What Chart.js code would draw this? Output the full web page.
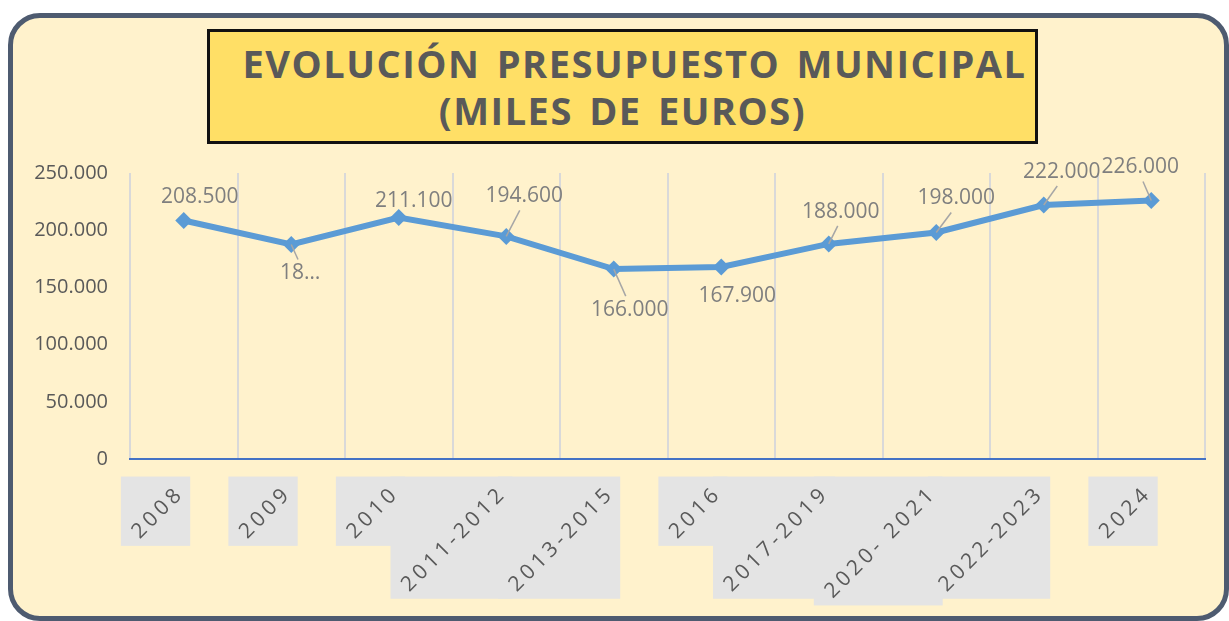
<!DOCTYPE html>
<html>
<head>
<meta charset="utf-8">
<script src="https://cdn.jsdelivr.net/npm/chart.js@4"></script>
<style>
html, body { margin: 0; padding: 0; background: #fff; width: 1229px; height: 621px; overflow: hidden; }
#card { position: absolute; left: 8px; top: 13px; width: 1221px; height: 608px; box-sizing: border-box;
        border: 5px solid #4e5b70; border-radius: 32px; background: #fff2cc; }
#title { position: absolute; left: 207px; top: 29px; width: 831px; height: 115px; box-sizing: border-box;
         border: 3px solid #111; background: #ffdf66; color: #595959; text-align: center;
         font: bold 38px "Open Sans", sans-serif; letter-spacing: 1.5px; word-spacing: 5px; line-height: 47px; padding-top: 8px; }
#title .l1 { display: inline-block; margin-left: 24px; }
#chart { position: absolute; left: 0; top: 0; }
</style>
</head>
<body>
<div id="card"></div>
<canvas id="chart" width="1229" height="621"></canvas>
<div id="title"><span class="l1">EVOLUCIÓN PRESUPUESTO MUNICIPAL</span><br>(MILES DE EUROS)</div>
<script>
// ==================== DATA ====================
const categories = ['2008', '2009', '2010', '2011-2012', '2013-2015', '2016', '2017-2019', '2020- 2021', '2022-2023', '2024'];
const budget = [208500, 187500, 211100, 194600, 166000, 167900, 188000, 198000, 222000, 226000];
const yTicks = [0, 50000, 100000, 150000, 200000, 250000];

// label placement (offset from point), leader lines, truncated labels
const labelOffsets = [[16, -23], [9, 29], [15, -16], [18, -40], [16, 41], [16, 29], [12, -32], [20, -34], [18, -33], [-11, -33]];
const labelLeaders = [false, true, false, true, true, false, true, true, true, true];
const labelClip = [0, 2, 0, 0, 0, 0, 0, 0, 0, 0];

const fmt = v => String(v).replace(/\B(?=(\d{3})+(?!\d))/g, '.');

// ==================== PLUGINS ====================
const pointLabels = {
    id: 'pointLabels',
    afterDatasetsDraw(chart) {
        const ctx = chart.ctx;
        const meta = chart.getDatasetMeta(0);
        ctx.save();
        ctx.font = '21px "Open Sans"';
        ctx.fillStyle = '#7f7f7f';
        ctx.strokeStyle = '#a6a6a6';
        ctx.lineWidth = 1.5;
        ctx.textAlign = 'center';
        ctx.textBaseline = 'middle';
        meta.data.forEach((pt, i) => {
            const [dx, dy] = labelOffsets[i];
            const lx = pt.x + dx, ly = pt.y + dy;
            if (labelLeaders[i]) {
                const s = dy < 0 ? -1 : 1;
                ctx.beginPath();
                ctx.moveTo(pt.x, pt.y);
                ctx.lineTo(lx - dx * 0.25, ly - s * 14);
                ctx.stroke();
            }
            let txt = fmt(budget[i]);
            if (labelClip[i]) txt = txt.slice(0, labelClip[i]) + '…';
            ctx.fillText(txt, lx, ly);
        });
        ctx.restore();
    }
};

const xLabels = {
    id: 'xLabels',
    afterDraw(chart) {
        const ctx = chart.ctx, xs = chart.scales.x;
        const h = 21, pad = 6, c = Math.SQRT1_2;
        const ay = chart.chartArea.bottom + 31;
        ctx.save();
        ctx.font = '21px "Open Sans"';
        ctx.letterSpacing = '4px';
        const items = categories.map((lab, i) => {
            const ax = xs.getPixelForValue(i) - 7;
            const L = ctx.measureText(lab).width - 4;
            return { lab, ax, L };
        });
        ctx.fillStyle = '#e4e4e4';
        items.forEach(({ ax, L }) => {
            const left = ax - c * L - c * h / 2 - pad;
            const right = ax + c * h / 2 + pad;
            const top = ay - c * h / 2 - pad;
            const bottom = ay + c * L + c * h / 2 + pad;
            ctx.fillRect(left, top, right - left, bottom - top);
        });
        ctx.fillStyle = '#595959';
        ctx.textAlign = 'right';
        ctx.textBaseline = 'middle';
        items.forEach(({ lab, ax }) => {
            ctx.save();
            ctx.translate(ax + 4, ay);
            ctx.rotate(-Math.PI / 4);
            ctx.fillText(lab, 0, 0);
            ctx.restore();
        });
        ctx.restore();
    }
};

// ==================== CHART ====================
const ctx = document.getElementById('chart').getContext('2d');
const budgetChart = new Chart(ctx, {
    type: 'line',
    data: {
        labels: categories,
        datasets: [{
            data: budget,
            borderColor: '#5b9bd5',
            borderWidth: 6,
            tension: 0,
            pointStyle: 'rectRot',
            pointRadius: 8.5,
            pointBackgroundColor: '#5b9bd5',
            pointBorderColor: '#5b9bd5',
            pointBorderWidth: 0
        }]
    },
    options: {
        responsive: false,
        animation: false,
        layout: { padding: { top: 173, bottom: 162, left: 0, right: 24 } },
        plugins: { legend: { display: false }, tooltip: { enabled: false } },
        scales: {
            x: {
                offset: true,
                grid: { offset: true, color: '#d9d9d9', lineWidth: 2, drawTicks: false },
                border: { color: '#4472c4', width: 2 },
                ticks: { display: false }
            },
            y: {
                min: yTicks[0],
                max: yTicks[yTicks.length - 1],
                afterBuildTicks: s => { s.ticks = yTicks.map(v => ({ value: v })); },
                afterFit: s => { s.width = 130; },
                grid: { display: false, drawTicks: false },
                border: { display: false },
                ticks: { color: '#595959', font: { size: 20, family: 'Open Sans' }, padding: 22, callback: v => fmt(v) }
            }
        }
    },
    plugins: [pointLabels, xLabels]
});
</script>
</body>
</html>
